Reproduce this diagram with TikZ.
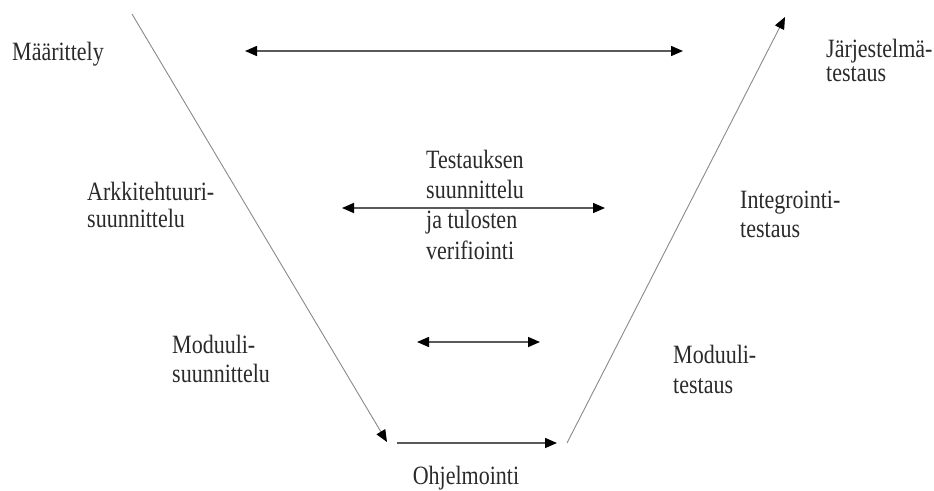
\documentclass[tikz,border=0pt]{standalone}
\usepackage{fontspec}
\setmainfont{Liberation Serif}
\usepackage{graphicx}
\usetikzlibrary{arrows.meta}
\newcommand\vtxt[2]{\scalebox{1}[1.2]{\fontsize{22}{#1}\selectfont\begin{tabular}[t]{@{}l@{}}#2\end{tabular}}}
\definecolor{txtc}{HTML}{2A2A2A}
\definecolor{diagc}{HTML}{8A8A8A}
\definecolor{horc}{HTML}{5A5A5A}
\begin{document}
\begin{tikzpicture}[x=1pt,y=-1pt,
  lbl/.style={anchor=base west,inner sep=0pt,text=txtc},
  tip/.style={-{Triangle[length=12pt,width=10pt,color=black]}},
  twotip/.style={{Triangle[length=12pt,width=10pt,color=black]}-{Triangle[length=12pt,width=10pt,color=black]}},
  diag/.style={draw=diagc,line width=0.9pt,tip},
  hor/.style={draw=horc,line width=1.5pt}]
\useasboundingbox[fill=white] (0,0) rectangle (934,490);
% labels
\node[lbl] (maar) at (12,60) {\vtxt{22}{Määrittely}};
\node[lbl] (arkk) at (87,200) {\vtxt{22.5}{Arkkitehtuuri-\\suunnittelu}};
\node[lbl] (modl) at (172,353) {\vtxt{24.2}{Moduuli-\\suunnittelu}};
\node[lbl] (test) at (426,168) {\vtxt{25.4}{Testauksen\\suunnittelu\\ja tulosten\\verifiointi}};
\node[lbl] (jarj) at (826,57) {\vtxt{20}{Järjestelmä-\\testaus}};
\node[lbl] (integ) at (740,208) {\vtxt{24.2}{Integrointi-\\testaus}};
\node[lbl] (modr) at (673,363) {\vtxt{25}{Moduuli-\\testaus}};
\node[anchor=base,inner sep=0pt,text=txtc] (ohj) at (466,484) {\vtxt{22}{Ohjelmointi}};
% connector end points
\coordinate (ld1) at (132,14);
\coordinate (ld2) at (387,442);
\coordinate (b1) at (397,443);
\coordinate (b2) at (557,443);
\coordinate (rd1) at (567,443);
\coordinate (rd2) at (785,17);
\coordinate (t1) at (245,51);
\coordinate (t2) at (683,51);
\coordinate (m1) at (342,208);
\coordinate (m2) at (605,208);
\coordinate (s1) at (417,342);
\coordinate (s2) at (540,342);
% connectors
\draw[diag] (ld1) -- (ld2);
\draw[diag] (rd1) -- (rd2);
\draw[hor,tip] (b1) -- (b2);
\draw[hor,twotip] (t1) -- (t2);
\draw[hor,twotip] (m1) -- (m2);
\draw[hor,twotip] (s1) -- (s2);
\end{tikzpicture}
\end{document}
